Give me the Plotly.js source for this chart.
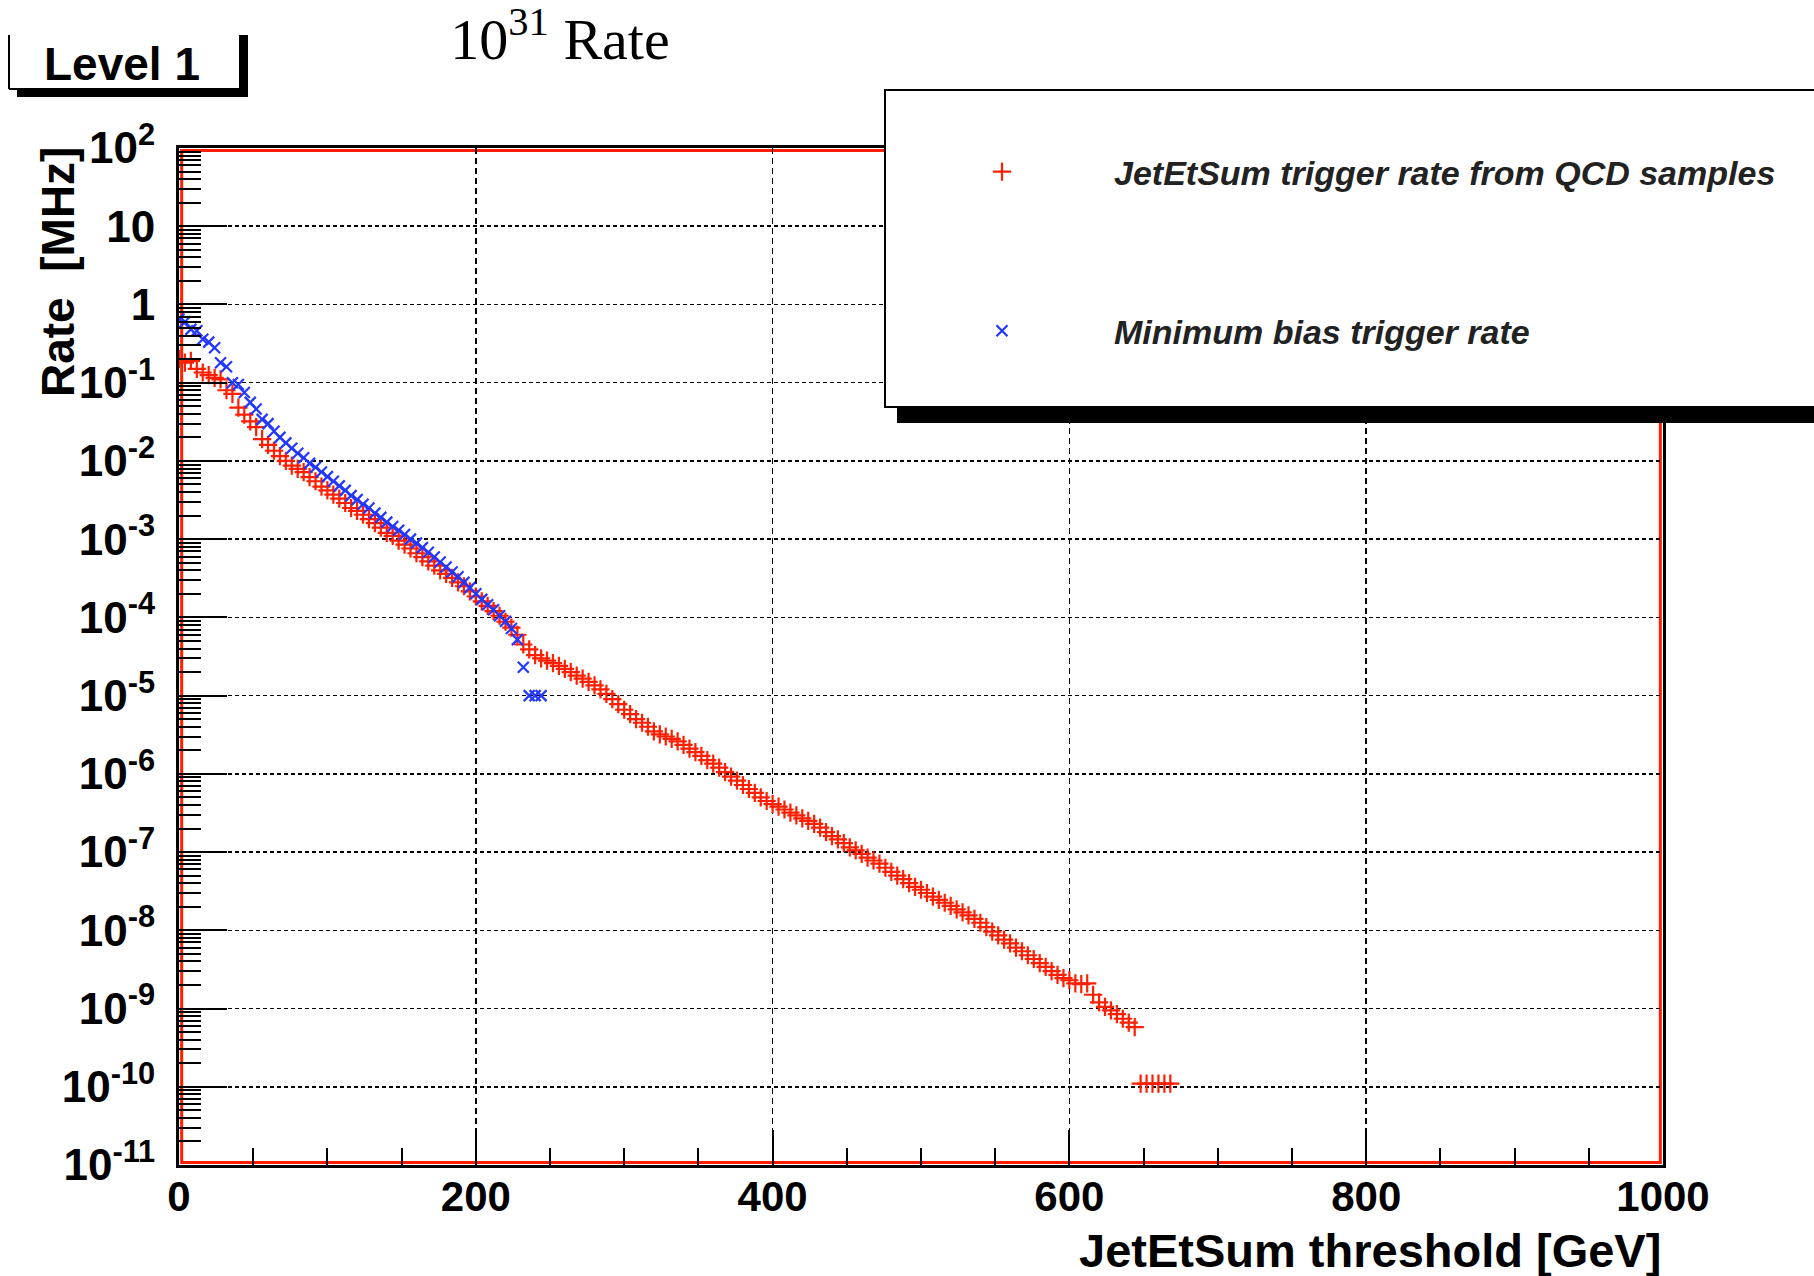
<!DOCTYPE html>
<html>
<head>
<meta charset="utf-8">
<script src="https://cdn.plot.ly/plotly-3.0.1.min.js"></script>
<style>
  html, body { margin: 0; padding: 0; background: #fff; }
  #chart { width: 1814px; height: 1276px; }
</style>
</head>
<body>
<div id="chart"></div>
<script>
// ---------------- DATA ----------------
// Histogram bin width (GeV) of the threshold scan
const BIN_WIDTH = 4;

// JetEtSum trigger rate from QCD samples [MHz], thresholds 0,4,8,...,644 GeV
const qcdRate = [
  2.0e-1, 1.8e-1, 1.9e-1, 1.5e-1, 1.35e-1, 1.25e-1, 1.15e-1, 1.1e-1, 8.0e-2, 7.2e-2,
  4.8e-2, 3.9e-2, 3.2e-2, 2.7e-2, 1.9e-2, 1.6e-2, 1.35e-2, 1.15e-2, 1.0e-2, 8.7e-3,
  7.9e-3, 7.2e-3, 6.2e-3, 5.5e-3, 4.7e-3, 4.2e-3, 3.7e-3, 3.3e-3, 2.9e-3, 2.5e-3,
  2.3e-3, 2.05e-3, 1.8e-3, 1.6e-3, 1.4e-3, 1.2e-3, 1.1e-3, 9.6e-4, 8.5e-4, 7.6e-4,
  6.6e-4, 5.9e-4, 5.2e-4, 4.6e-4, 4.0e-4, 3.6e-4, 3.2e-4, 2.8e-4, 2.5e-4, 2.15e-4,
  1.85e-4, 1.6e-4, 1.4e-4, 1.2e-4, 1.05e-4, 8.8e-5, 7.4e-5, 6.0e-5, 4.5e-5, 3.9e-5,
  3.3e-5, 3.0e-5, 2.8e-5, 2.6e-5, 2.4e-5, 2.2e-5, 2.0e-5, 1.8e-5, 1.65e-5, 1.5e-5,
  1.35e-5, 1.2e-5, 1.05e-5, 9.0e-6, 7.8e-6, 6.6e-6, 5.8e-6, 5.0e-6, 4.5e-6, 4.0e-6,
  3.5e-6, 3.2e-6, 3.0e-6, 2.8e-6, 2.6e-6, 2.35e-6, 2.1e-6, 1.9e-6, 1.7e-6, 1.5e-6,
  1.35e-6, 1.2e-6, 1.05e-6, 9.2e-7, 8.2e-7, 7.2e-7, 6.4e-7, 5.7e-7, 5.0e-7, 4.5e-7,
  4.1e-7, 3.8e-7, 3.5e-7, 3.2e-7, 2.95e-7, 2.7e-7, 2.5e-7, 2.3e-7, 2.05e-7, 1.8e-7,
  1.6e-7, 1.45e-7, 1.3e-7, 1.15e-7, 1.05e-7, 9.5e-8, 8.5e-8, 7.8e-8, 7.1e-8, 6.3e-8,
  5.6e-8, 5.0e-8, 4.5e-8, 4.0e-8, 3.6e-8, 3.3e-8, 3.0e-8, 2.7e-8, 2.45e-8, 2.25e-8,
  2.05e-8, 1.85e-8, 1.7e-8, 1.55e-8, 1.4e-8, 1.25e-8, 1.1e-8, 9.6e-9, 8.6e-9, 7.6e-9,
  6.8e-9, 6.0e-9, 5.4e-9, 4.8e-9, 4.3e-9, 3.8e-9, 3.4e-9, 3.0e-9, 2.7e-9, 2.45e-9,
  2.3e-9, 2.1e-9, 2.05e-9, 2.1e-9, 1.5e-9, 1.2e-9, 1.05e-9, 9.5e-10, 8.5e-10, 7.4e-10,
  6.6e-10, 5.8e-10
];

// QCD tail points (single-event level)
const qcdTailThreshold = [648, 652, 656, 660, 664, 668];
const qcdTailRate = [1.1e-10, 1.1e-10, 1.1e-10, 1.1e-10, 1.1e-10, 1.1e-10];

// Minimum bias trigger rate [MHz], thresholds 0,4,8,...,244 GeV
const minBiasRate = [
  6.5e-1, 6.0e-1, 4.8e-1, 4.6e-1, 3.6e-1, 3.3e-1, 2.8e-1, 1.8e-1, 1.6e-1, 1.0e-1,
  9.5e-2, 7.5e-2, 5.6e-2, 4.6e-2, 3.4e-2, 3.0e-2, 2.4e-2, 2.0e-2, 1.7e-2, 1.45e-2,
  1.25e-2, 1.1e-2, 9.3e-3, 8.3e-3, 7.2e-3, 6.3e-3, 5.5e-3, 4.8e-3, 4.2e-3, 3.6e-3,
  3.2e-3, 2.8e-3, 2.5e-3, 2.15e-3, 1.9e-3, 1.65e-3, 1.45e-3, 1.3e-3, 1.15e-3, 1.0e-3,
  8.9e-4, 7.8e-4, 6.8e-4, 5.9e-4, 5.1e-4, 4.4e-4, 3.8e-4, 3.3e-4, 2.8e-4, 2.4e-4,
  2.0e-4, 1.7e-4, 1.45e-4, 1.25e-4, 1.05e-4, 8.9e-5, 7.2e-5, 5.2e-5, 2.3e-5, 1.0e-5,
  1.0e-5, 1.0e-5
];

// Axis tick values and labels
const yTickVals = [1e2, 1e1, 1e0, 1e-1, 1e-2, 1e-3, 1e-4, 1e-5, 1e-6, 1e-7, 1e-8, 1e-9, 1e-10, 1e-11];
const yTickText = ['10<sup>2</sup>', '10', '1', '10<sup>-1</sup>', '10<sup>-2</sup>', '10<sup>-3</sup>',
  '10<sup>-4</sup>', '10<sup>-5</sup>', '10<sup>-6</sup>', '10<sup>-7</sup>', '10<sup>-8</sup>',
  '10<sup>-9</sup>', '10<sup>-10</sup>', '10<sup>-11</sup>'];

const seriesNames = ['JetEtSum trigger rate from QCD samples', 'Minimum bias trigger rate'];

// ---------------- BUILD ----------------
const qcdThreshold = qcdRate.map((_, i) => i * BIN_WIDTH);
const minBiasThreshold = minBiasRate.map((_, i) => i * BIN_WIDTH);

const RED = 'rgb(255,30,0)';
const BLUE = 'rgb(35,55,255)';

const traces = [
  {
    type: 'scatter', mode: 'markers', name: seriesNames[0], legendgroup: 'qcd',
    x: qcdThreshold, y: qcdRate,
    marker: { symbol: 'cross-thin', size: 13, color: RED, line: { color: RED, width: 2.2 } },
    hoverinfo: 'skip'
  },
  {
    type: 'scatter', mode: 'markers', name: seriesNames[0], legendgroup: 'qcd', showlegend: false,
    x: qcdTailThreshold, y: qcdTailRate,
    marker: { symbol: 'cross-thin', size: 13, color: RED, line: { color: RED, width: 2.2 } },
    hoverinfo: 'skip'
  },
  {
    type: 'scatter', mode: 'markers', name: seriesNames[1], legendgroup: 'mb',
    x: minBiasThreshold, y: minBiasRate,
    marker: { symbol: 'x-thin', size: 11, color: BLUE, line: { color: BLUE, width: 2.2 } },
    hoverinfo: 'skip'
  }
];

// helpers: pixel -> paper
const L = 179, R = 1663, T = 148, B = 1165;
const px = X => (X - L) / (R - L);
const py = Y => (B - Y) / (B - T);

const boldFont = (size) => ({ family: 'Liberation Sans, Arial, sans-serif', size: size, color: '#000', weight: 700 });

const layout = {
  width: 1814, height: 1276,
  margin: { l: L, r: 1814 - R, t: T, b: 1276 - B, pad: 0 },
  paper_bgcolor: '#fff', plot_bgcolor: '#fff',
  showlegend: true,
  title: {
    text: '10<sup>31</sup> Rate',
    font: { family: 'Liberation Serif, Times New Roman, serif', size: 58, color: '#000' },
    xref: 'container', x: 560 / 1814, xanchor: 'center',
    yref: 'container', y: 1 - 39 / 1276, yanchor: 'middle'
  },
  xaxis: {
    range: [0, 1000], tickmode: 'linear', tick0: 0, dtick: 200,
    ticks: 'inside', ticklen: 35, tickwidth: 2, tickcolor: '#000',
    showline: true, linecolor: '#000', linewidth: 3, mirror: true,
    showgrid: true, gridcolor: '#000', gridwidth: 1.5, griddash: '6px,4px',
    zeroline: false,
    tickfont: boldFont(42), ticklabelstandoff: -7,
    minor: { tick0: 0, dtick: 50, ticks: 'inside', ticklen: 17, tickwidth: 2, tickcolor: '#000', showgrid: false }
  },
  yaxis: {
    type: 'log', range: [-11, 2],
    tickmode: 'array', tickvals: yTickVals, ticktext: yTickText,
    ticks: 'inside', ticklen: 48, tickwidth: 2, tickcolor: '#000',
    showline: true, linecolor: '#000', linewidth: 3, mirror: true,
    showgrid: true, gridcolor: '#000', gridwidth: 1.5, griddash: '4px,3px',
    zeroline: false,
    tickfont: boldFont(44), ticklabelstandoff: 12,
    minor: { dtick: 'D1', ticks: 'inside', ticklen: 22, tickwidth: 2, tickcolor: '#000', showgrid: false }
  },
  legend: {
    x: px(890), xanchor: 'left', y: py(143), yanchor: 'top',
    bgcolor: 'rgba(0,0,0,0)', borderwidth: 0,
    font: { family: 'Liberation Sans, Arial, sans-serif', size: 34, style: 'italic', weight: 700, color: '#222' },
    itemwidth: 214, tracegroupgap: 112, traceorder: 'grouped'
  },
  shapes: [
    // red frame just inside the black axis lines
    { type: 'rect', xref: 'paper', yref: 'paper', x0: 0.0018, x1: 0.9982, y0: 0.0025, y1: 0.9975,
      line: { color: RED, width: 3 }, layer: 'between' },
    // legend shadow
    { type: 'rect', xref: 'paper', yref: 'paper', x0: px(897), x1: px(1900), y0: py(423), y1: py(406),
      fillcolor: '#000', line: { width: 0 }, layer: 'above' },
    // legend box
    { type: 'rect', xref: 'paper', yref: 'paper', x0: px(885), x1: px(1900), y0: py(407), y1: py(90),
      fillcolor: '#fff', line: { color: '#000', width: 2 }, layer: 'above' },
    // "Level 1" pave: left line, bottom line, shadows
    { type: 'line', xref: 'paper', yref: 'paper', x0: px(9), x1: px(9), y0: py(35), y1: py(89),
      line: { color: '#000', width: 2 }, layer: 'above' },
    { type: 'line', xref: 'paper', yref: 'paper', x0: px(9), x1: px(241), y0: py(89), y1: py(89),
      line: { color: '#000', width: 2 }, layer: 'above' },
    { type: 'rect', xref: 'paper', yref: 'paper', x0: px(239), x1: px(248), y0: py(97), y1: py(35),
      fillcolor: '#000', line: { width: 0 }, layer: 'above' },
    { type: 'rect', xref: 'paper', yref: 'paper', x0: px(17), x1: px(248), y0: py(97), y1: py(89),
      fillcolor: '#000', line: { width: 0 }, layer: 'above' }
  ],
  annotations: [
    { text: 'Level 1', xref: 'paper', yref: 'paper', x: px(122), y: py(64),
      xanchor: 'center', yanchor: 'middle', showarrow: false, font: boldFont(46) },
    { text: 'Rate  [MHz]', xref: 'paper', yref: 'paper', x: px(58), y: py(272),
      xanchor: 'center', yanchor: 'middle', textangle: -90, showarrow: false, font: boldFont(46) },
    { text: 'JetEtSum threshold [GeV]', xref: 'paper', yref: 'paper', x: 1.0, y: py(1250),
      xanchor: 'right', yanchor: 'middle', showarrow: false, font: boldFont(47) }
  ]
};

Plotly.newPlot('chart', traces, layout, { staticPlot: true, displayModeBar: false });
</script>
</body>
</html>
